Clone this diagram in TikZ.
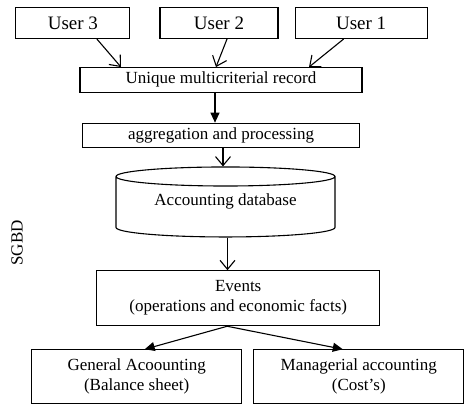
\documentclass[tikz,border=0pt]{standalone}
\usepackage{fontspec}
\setmainfont{Liberation Serif}
\usepackage{tikz}
\usetikzlibrary{shapes, arrows.meta, positioning, shapes.geometric}

\begin{document}
\begin{tikzpicture}
[
UserNode/.style={rectangle, draw=black, line width=1.1pt, inner sep=0pt,
minimum height=31pt, align=center, font=\fontsize{19}{21}\selectfont},
StepNode/.style={rectangle, draw=black, line width=1.1pt, inner sep=0pt,
minimum height=24.5pt, align=center, font=\fontsize{17}{20}\selectfont},
DataNode/.style={cylinder, draw=black, line width=1.1pt, inner sep=0pt,
shape border rotate=90, shape aspect=0.134, minimum width=219pt, minimum height=70pt,
align=center, font=\fontsize{17}{20}\selectfont},
ResultNode/.style={rectangle, draw=black, line width=1.1pt, inner sep=0pt,
minimum width=210pt, minimum height=54pt, align=center, font=\fontsize{17}{20}\selectfont},
OpenArrow/.style={line width=1.1pt, -{Straight Barb[length=9pt,width=15pt,line width=1.1pt]}},
FullArrow/.style={line width=1.1pt, -{Triangle[length=10pt,width=9pt]}}
]
\useasboundingbox (0,0) rectangle (474pt,-410pt);

\node[UserNode, minimum width=118pt] (User2) at (219pt,-23pt) {User 2};
\node[UserNode, minimum width=114pt] (User3) [left=29pt of User2] {User 3};
\node[UserNode, minimum width=132pt] (User1) [right=16pt of User2] {User 1};
\node[StepNode, minimum width=282pt] (Record) [below=28pt of User2, xshift=2pt] {Unique multicriterial record};
\node[StepNode, minimum width=277pt] (Aggregation) [below=30pt of Record] {aggregation and processing};
\node[DataNode] (Database) at (225.5pt,-207pt) {\raisebox{2pt}[0pt][0pt]{Accounting database}};
\node[ResultNode, minimum width=283pt, minimum height=55pt] (Events) at (238.2pt,-298.2pt)
  {Events\\(operations and economic facts)};
\node[ResultNode] (General) [below=23pt of Events, xshift=-101.5pt] {General Acoounting\\(Balance sheet)};
\node[ResultNode] (Managerial) [right=11pt of General] {Managerial accounting\\(Cost's)};
\node[rotate=90, font=\fontsize{17}{20}\selectfont] (SGBD) at (17pt,-243pt) {SGBD};

\draw[OpenArrow] ([xshift=24pt]User3.south) -- ([xshift=-100pt]Record.north);
\draw[OpenArrow] ([xshift=8pt]User2.south) -- ([xshift=-5pt]Record.north);
\draw[OpenArrow] ([xshift=-17.5pt]User1.south) -- ([xshift=88pt]Record.north);
\draw[FullArrow] ([xshift=-6pt]Record.south) -- ([xshift=-6pt]Record.south |- Aggregation.north);
\draw[OpenArrow] ([xshift=2pt]Aggregation.south) -- ([xshift=2pt]Aggregation.south |- Database.north);
\draw[OpenArrow] ([xshift=2pt]Database.south) -- ([xshift=2pt]Database.south |- Events.north);
\draw[FullArrow] ([xshift=-11pt]Events.south) -- ([xshift=8pt]General.north);
\draw[FullArrow] ([xshift=-11pt]Events.south) -- ([xshift=-16pt]Managerial.north);
\end{tikzpicture}
\end{document}
